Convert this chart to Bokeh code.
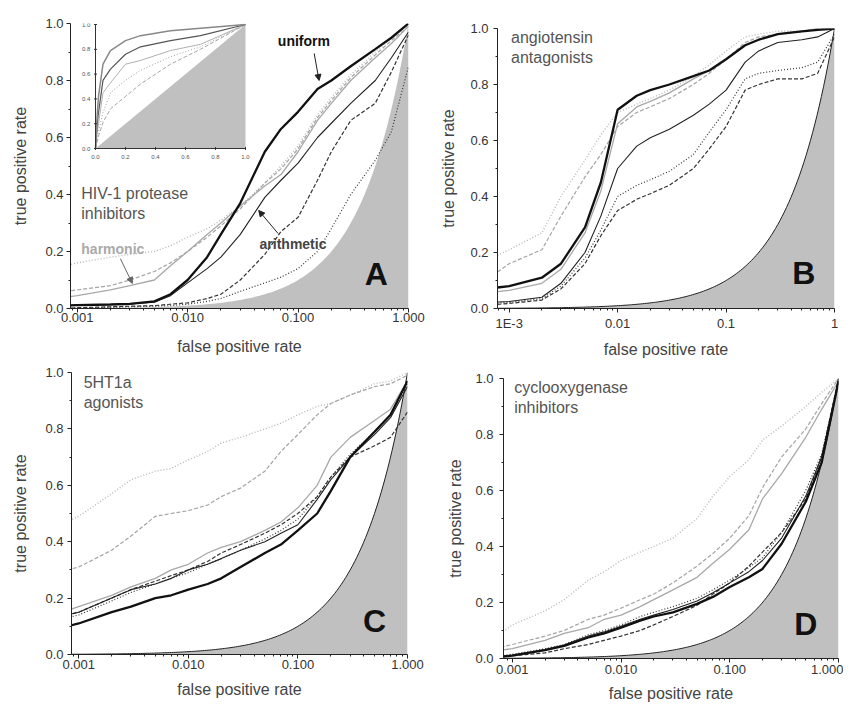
import numpy as np
from bokeh.plotting import figure
from bokeh.layouts import row, column
from bokeh.models import FixedTicker, Range1d, LinearScale, Arrow, NormalHead
from bokeh.core.properties import value
from bokeh.embed import file_html
from bokeh.resources import INLINE

FONT = "Liberation Sans"

# ---------------- data ----------------
fpr = [0.00078, 0.001, 0.002, 0.003, 0.005, 0.007, 0.01, 0.015, 0.02, 0.03,
       0.05, 0.07, 0.1, 0.15, 0.2, 0.3, 0.5, 0.7, 1.0]

# Panel A: HIV-1 protease inhibitors
a_har_dot  = [0.15, 0.16, 0.18, 0.19, 0.20, 0.22, 0.25, 0.28, 0.31, 0.36, 0.44, 0.50, 0.57, 0.68, 0.74, 0.82, 0.90, 0.95, 1.0]
a_har_dash = [0.06, 0.065, 0.08, 0.10, 0.13, 0.16, 0.20, 0.25, 0.29, 0.35, 0.44, 0.49, 0.56, 0.67, 0.73, 0.81, 0.89, 0.94, 0.99]
a_har      = [0.04, 0.045, 0.065, 0.08, 0.10, 0.15, 0.20, 0.26, 0.30, 0.36, 0.43, 0.47, 0.55, 0.66, 0.72, 0.80, 0.88, 0.93, 0.99]
a_ari_dot  = [0.0, 0.002, 0.004, 0.006, 0.008, 0.01, 0.015, 0.025, 0.035, 0.06, 0.09, 0.11, 0.14, 0.20, 0.28, 0.40, 0.52, 0.62, 0.85]
a_ari_dash = [0.0, 0.003, 0.006, 0.008, 0.01, 0.015, 0.02, 0.035, 0.05, 0.10, 0.19, 0.27, 0.32, 0.45, 0.55, 0.66, 0.72, 0.83, 0.96]
a_ari      = [0.010, 0.012, 0.014, 0.016, 0.022, 0.045, 0.09, 0.14, 0.18, 0.26, 0.39, 0.45, 0.51, 0.60, 0.65, 0.72, 0.80, 0.88, 0.97]
a_uni      = [0.010, 0.012, 0.014, 0.016, 0.025, 0.05, 0.10, 0.18, 0.26, 0.37, 0.55, 0.63, 0.69, 0.77, 0.80, 0.85, 0.91, 0.95, 1.0]

# Panel A inset (linear ROC)
ins_fpr   = [0.0, 0.01, 0.02, 0.05, 0.1, 0.2, 0.3, 0.5, 0.7, 1.0]
ins_top   = [0.0, 0.25, 0.42, 0.68, 0.79, 0.87, 0.91, 0.95, 0.97, 1.0]
ins_black = [0.0, 0.18, 0.29, 0.55, 0.64, 0.76, 0.82, 0.87, 0.91, 1.0]
ins_light = [0.0, 0.12, 0.20, 0.45, 0.53, 0.68, 0.71, 0.79, 0.84, 1.0]
ins_dot   = [0.0, 0.08, 0.14, 0.29, 0.45, 0.55, 0.63, 0.74, 0.82, 1.0]
ins_dash  = [0.0, 0.05, 0.10, 0.21, 0.32, 0.42, 0.52, 0.68, 0.80, 1.0]
ins_ticks = [0.0, 0.2, 0.4, 0.6, 0.8, 1.0]
ins_tick_labels = ["0.0", "0.2", "0.4", "0.6", "0.8", "1.0"]

# Panel B: angiotensin antagonists
b_har_dot  = [0.19, 0.21, 0.27, 0.40, 0.53, 0.62, 0.70, 0.73, 0.75, 0.78, 0.83, 0.87, 0.92, 0.97, 0.98, 0.99, 0.99, 1.0, 1.0]
b_har_dash = [0.13, 0.16, 0.21, 0.33, 0.47, 0.55, 0.65, 0.70, 0.72, 0.75, 0.80, 0.84, 0.89, 0.95, 0.97, 0.98, 0.99, 1.0, 1.0]
b_har      = [0.06, 0.065, 0.09, 0.14, 0.27, 0.42, 0.66, 0.72, 0.74, 0.77, 0.82, 0.85, 0.89, 0.94, 0.96, 0.98, 0.99, 1.0, 1.0]
b_ari_dot  = [0.02, 0.022, 0.035, 0.08, 0.18, 0.28, 0.40, 0.44, 0.46, 0.49, 0.55, 0.63, 0.71, 0.82, 0.84, 0.85, 0.86, 0.88, 0.98]
b_ari_dash = [0.015, 0.018, 0.03, 0.07, 0.16, 0.26, 0.35, 0.39, 0.41, 0.44, 0.50, 0.57, 0.65, 0.78, 0.80, 0.82, 0.82, 0.84, 0.97]
b_ari      = [0.023, 0.025, 0.04, 0.09, 0.20, 0.33, 0.50, 0.58, 0.61, 0.64, 0.69, 0.73, 0.78, 0.88, 0.92, 0.95, 0.96, 0.97, 1.0]
b_uni      = [0.075, 0.08, 0.11, 0.16, 0.29, 0.45, 0.71, 0.76, 0.78, 0.80, 0.83, 0.85, 0.89, 0.94, 0.96, 0.98, 0.99, 0.995, 1.0]

# Panel C: 5HT1a agonists
c_har_dot  = [0.47, 0.49, 0.57, 0.62, 0.65, 0.66, 0.69, 0.72, 0.75, 0.77, 0.80, 0.82, 0.85, 0.88, 0.89, 0.92, 0.96, 0.97, 1.0]
c_har_dash = [0.30, 0.31, 0.37, 0.42, 0.49, 0.50, 0.51, 0.53, 0.56, 0.59, 0.65, 0.72, 0.78, 0.85, 0.89, 0.92, 0.95, 0.96, 0.99]
c_har      = [0.155, 0.17, 0.21, 0.24, 0.27, 0.30, 0.32, 0.36, 0.38, 0.40, 0.44, 0.47, 0.52, 0.60, 0.70, 0.77, 0.83, 0.87, 0.97]
c_ari_dot  = [0.13, 0.14, 0.19, 0.22, 0.25, 0.27, 0.29, 0.32, 0.34, 0.37, 0.41, 0.44, 0.48, 0.56, 0.63, 0.71, 0.79, 0.85, 0.96]
c_ari_dash = [0.14, 0.15, 0.20, 0.23, 0.26, 0.28, 0.30, 0.33, 0.36, 0.39, 0.43, 0.46, 0.50, 0.56, 0.63, 0.70, 0.74, 0.77, 0.86]
c_ari      = [0.14, 0.15, 0.20, 0.23, 0.25, 0.27, 0.30, 0.32, 0.34, 0.37, 0.40, 0.43, 0.46, 0.55, 0.62, 0.70, 0.78, 0.84, 0.95]
c_uni      = [0.10, 0.11, 0.15, 0.17, 0.20, 0.21, 0.23, 0.25, 0.27, 0.31, 0.36, 0.39, 0.44, 0.50, 0.58, 0.70, 0.79, 0.85, 0.97]

# Panel D: cyclooxygenase inhibitors
d_har_dot  = [0.09, 0.12, 0.17, 0.21, 0.28, 0.31, 0.35, 0.38, 0.40, 0.43, 0.50, 0.58, 0.65, 0.71, 0.78, 0.83, 0.90, 0.95, 1.0]
d_har_dash = [0.04, 0.05, 0.08, 0.10, 0.14, 0.155, 0.18, 0.21, 0.23, 0.27, 0.33, 0.375, 0.43, 0.51, 0.61, 0.72, 0.82, 0.91, 1.0]
d_har      = [0.03, 0.035, 0.065, 0.09, 0.11, 0.14, 0.155, 0.185, 0.21, 0.245, 0.29, 0.34, 0.39, 0.46, 0.57, 0.66, 0.79, 0.89, 0.99]
d_ari_dot  = [0.01, 0.015, 0.035, 0.05, 0.085, 0.10, 0.12, 0.15, 0.165, 0.185, 0.215, 0.245, 0.28, 0.325, 0.36, 0.45, 0.60, 0.73, 0.99]
d_ari_dash = [0.005, 0.01, 0.02, 0.035, 0.05, 0.065, 0.08, 0.10, 0.12, 0.15, 0.19, 0.23, 0.27, 0.33, 0.38, 0.45, 0.57, 0.72, 1.0]
d_ari      = [0.008, 0.012, 0.032, 0.048, 0.08, 0.095, 0.115, 0.14, 0.155, 0.175, 0.205, 0.235, 0.27, 0.31, 0.35, 0.43, 0.58, 0.72, 0.99]
d_uni      = [0.006, 0.01, 0.03, 0.045, 0.075, 0.09, 0.11, 0.135, 0.15, 0.165, 0.195, 0.22, 0.255, 0.29, 0.32, 0.41, 0.56, 0.70, 0.99]

# random-classifier reference (TPR = FPR)
diag = np.logspace(-3.2, 0, 160)

y_ticks = [0.0, 0.2, 0.4, 0.6, 0.8, 1.0]
y_minor = [0.1, 0.3, 0.5, 0.7, 0.9]
x_ticks = [0.001, 0.01, 0.1, 1.0]
x_minor = [m * d for d in (0.0001, 0.001, 0.01, 0.1) for m in range(2, 10)]
labels_acd = {0.001: "0.001", 0.01: "0.010", 0.1: "0.100", 1.0: "1.000"}
labels_b = {0.001: "1E-3", 0.01: "0.01", 0.1: "0.1", 1.0: "1"}

STY = {
    "har_dot":  ("#b8b8b8", 1.4, "1 2"),
    "har_dash": ("#a4a4a4", 1.2, "4 2"),
    "har":      ("#a8a8a8", 1.3, "solid"),
    "ari_dot":  ("#333333", 1.2, "1 2"),
    "ari_dash": ("#333333", 1.2, "4 2"),
    "ari":      ("#222222", 1.1, "solid"),
    "uni":      ("#111111", 2.3, "solid"),
}


def make_panel(x_start, w, h, bl, br, bt, bb, xlabels, xs, xls, ys, yls):
    p = figure(width=w, height=h, x_axis_type="log",
               x_range=Range1d(x_start, 1.0), y_range=Range1d(0.0, 1.0),
               output_backend="svg", toolbar_location=None,
               min_border_left=bl, min_border_right=br,
               min_border_top=bt, min_border_bottom=bb)
    p.outline_line_color = None
    p.grid.visible = False
    p.background_fill_color = "white"
    p.border_fill_color = "white"
    p.xaxis.ticker = FixedTicker(ticks=x_ticks, minor_ticks=x_minor)
    p.xaxis.major_label_overrides = xlabels
    p.yaxis.ticker = FixedTicker(ticks=y_ticks, minor_ticks=y_minor)
    p.yaxis.major_label_overrides = {v: f"{v:.1f}" for v in y_ticks}
    for ax in (p.xaxis[0], p.yaxis[0]):
        ax.axis_line_color = "#222222"
        ax.major_tick_line_color = "#222222"
        ax.minor_tick_line_color = "#222222"
        ax.major_tick_in = 0
        ax.major_tick_out = 4
        ax.minor_tick_in = 0
        ax.minor_tick_out = 2
        ax.major_label_text_font = FONT
        ax.major_label_text_font_size = "13px"
        ax.major_label_text_color = "#333333"
        ax.axis_label_text_font = FONT
        ax.axis_label_text_font_size = "16px"
        ax.axis_label_text_font_style = "normal"
        ax.axis_label_text_color = "#444444"
    p.xaxis.axis_label = "false positive rate"
    p.yaxis.axis_label = "true positive rate"
    p.xaxis.major_label_standoff = xs
    p.xaxis.axis_label_standoff = xls
    p.yaxis.major_label_standoff = ys
    p.yaxis.axis_label_standoff = yls
    return p


def draw_panel(p, series, outline):
    p.varea(x=diag, y1=0, y2=diag, fill_color="#c0c0c0")
    if outline:
        p.line(diag, diag, line_color="#222222", line_width=1)
    for key, ys in series:
        c, lw, dash = STY[key]
        p.line(fpr, ys, line_color=c, line_width=lw, line_dash=dash)


def panel_text(p, x, y, txt):
    p.text(x=[x], y=[y], text=[txt], text_font=value(FONT), text_font_size="16px",
           text_color="#555555", text_align="left", text_baseline="top",
           text_line_height=1.2)


def letter(p, x, y, txt):
    p.text(x=[x], y=[y], text=[txt], text_font=value(FONT), text_font_size="32px",
           text_font_style="bold", text_color="#111111", text_align="center",
           text_baseline="middle")


# ---------------- Panel A ----------------
pA = make_panel(0.00087, 425, 360, 70, 17, 23, 52, labels_acd, 0, 13, 3, 13)
draw_panel(pA, [("har_dot", a_har_dot), ("har_dash", a_har_dash), ("har", a_har),
                ("ari_dot", a_ari_dot), ("ari_dash", a_ari_dash), ("ari", a_ari),
                ("uni", a_uni)], outline=False)
panel_text(pA, 0.00109, 0.435, "HIV-1 protease\ninhibitors")
letter(pA, 0.51, 0.12, "A")
pA.text(x=[0.113], y=[0.94], text=["uniform"], text_font=value(FONT), text_font_size="14px",
        text_font_style="bold", text_color="#111111", text_align="center", text_baseline="middle")
pA.text(x=[0.09], y=[0.228], text=["arithmetic"], text_font=value(FONT), text_font_size="14px",
        text_font_style="bold", text_color="#444444", text_align="center", text_baseline="middle")
pA.text(x=[0.00109], y=[0.21], text=["harmonic"], text_font=value(FONT), text_font_size="14px",
        text_font_style="bold", text_color="#aaaaaa", text_align="left", text_baseline="middle")
for (xs_, ys_, xe, ye, col) in [(0.14, 0.895, 0.155, 0.80, "#222222"),
                                (0.066, 0.263, 0.044, 0.344, "#222222"),
                                (0.00246, 0.175, 0.00316, 0.088, "#666666")]:
    pA.add_layout(Arrow(end=NormalHead(size=6, fill_color=col, line_color=col),
                        x_start=xs_, y_start=ys_, x_end=xe, y_end=ye,
                        line_color=col, line_width=1))

# inset: its own linear scales placed inside panel A's frame
FW, FH = 425 - 70 - 17, 360 - 23 - 52          # frame size of panel A
ins_px_x0, ins_px_w = 25, 150                   # inset x=0 offset and width (px)
ins_px_y0, ins_px_h = 160, 124                  # inset y=0 offset from bottom, height (px)
xs0 = -ins_px_x0 / ins_px_w
ys0 = -ins_px_y0 / ins_px_h
pA.extra_x_ranges = {"ins": Range1d(xs0, xs0 + FW / ins_px_w)}
pA.extra_y_ranges = {"ins": Range1d(ys0, ys0 + FH / ins_px_h)}
pA.extra_x_scales = {"ins": LinearScale()}
pA.extra_y_scales = {"ins": LinearScale()}
kw = dict(x_range_name="ins", y_range_name="ins")
pA.varea(x=[0.0, 1.0], y1=[0.0, 0.0], y2=[0.0, 1.0], fill_color="#c0c0c0", **kw)
pA.line(ins_fpr, ins_dash, line_color="#a4a4a4", line_width=1, line_dash="4 2", **kw)
pA.line(ins_fpr, ins_dot, line_color="#a0a0a0", line_width=1, line_dash="1 2", **kw)
pA.line(ins_fpr, ins_light, line_color="#b0b0b0", line_width=1, **kw)
pA.line(ins_fpr, ins_black, line_color="#555555", line_width=1.2, **kw)
pA.line(ins_fpr, ins_top, line_color="#888888", line_width=1.5, **kw)
pA.line([0.0, 0.0], [0.0, 1.0], line_color="#333333", line_width=1, **kw)
pA.line([0.0, 1.0], [0.0, 0.0], line_color="#333333", line_width=1, **kw)
pA.scatter(x=[0.0] * len(ins_ticks), y=ins_ticks, marker="dash", size=3,
           line_color="#333333", **kw)
pA.scatter(x=ins_ticks, y=[0.0] * len(ins_ticks), marker="dash", size=3, angle=np.pi / 2,
           line_color="#333333", **kw)
pA.text(x=[-0.035] * len(ins_ticks), y=ins_ticks, text=ins_tick_labels,
        text_font=value(FONT), text_font_size="6px", text_color="#555555",
        text_align="right", text_baseline="middle", **kw)
pA.text(x=ins_ticks, y=[-0.065] * len(ins_ticks), text=ins_tick_labels,
        text_font=value(FONT), text_font_size="6px", text_color="#555555",
        text_align="center", text_baseline="middle", **kw)

# ---------------- Panel B ----------------
pB = make_panel(0.00078, 418, 360, 72, 9, 28, 47, labels_b, 3, 7, 5, 10)
draw_panel(pB, [("har_dot", b_har_dot), ("har_dash", b_har_dash), ("har", b_har),
                ("ari_dot", b_ari_dot), ("ari_dash", b_ari_dash), ("ari", b_ari),
                ("uni", b_uni)], outline=True)
panel_text(pB, 0.00104, 1.0, "angiotensin\nantagonists")
letter(pB, 0.52, 0.126, "B")

# ---------------- Panel C ----------------
pC = make_panel(0.00086, 425, 346, 71, 18, 12, 52, labels_acd, 1, 9, 4, 13)
draw_panel(pC, [("har_dot", c_har_dot), ("har_dash", c_har_dash), ("har", c_har),
                ("ari_dot", c_ari_dot), ("ari_dash", c_ari_dash), ("ari", c_ari),
                ("uni", c_uni)], outline=True)
panel_text(pC, 0.00111, 0.996, "5HT1a\nagonists")
letter(pC, 0.50, 0.12, "C")

# ---------------- Panel D ----------------
pD = make_panel(0.00083, 418, 346, 78, 5, 18, 48, labels_acd, 2, 8, 6, 8)
draw_panel(pD, [("har_dot", d_har_dot), ("har_dash", d_har_dash), ("har", d_har),
                ("ari_dot", d_ari_dot), ("ari_dash", d_ari_dash), ("ari", d_ari),
                ("uni", d_uni)], outline=True)
panel_text(pD, 0.00104, 1.0, "cyclooxygenase\ninhibitors")
letter(pD, 0.50, 0.125, "D")

# each plot wrapped on its own so that frames are not aligned across panels
layout = column(row(column(pA), column(pB)), row(column(pC), column(pD)))
open("out.html", "w").write(file_html(layout, INLINE))
